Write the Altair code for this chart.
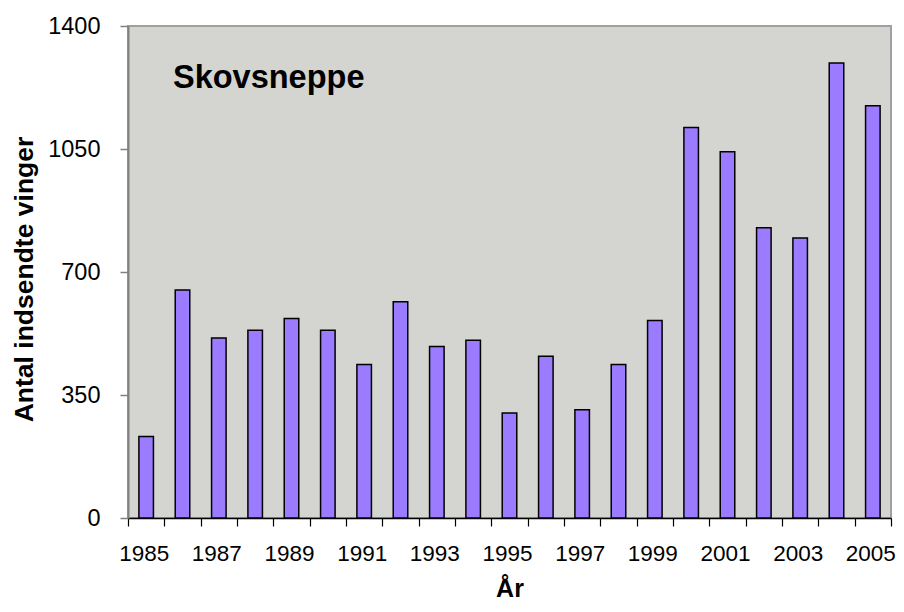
import altair as alt
import pandas as pd

years = list(range(1985, 2006))
values = [232, 649, 512, 534, 568, 534, 437, 615, 488, 506,
          299, 460, 308, 437, 562, 1111, 1042, 826, 797, 1295, 1173]

y_ticks = [0, 350, 700, 1050, 1400]
x_tick_bounds = [y - 0.5 for y in years] + [years[-1] + 0.5]

df = pd.DataFrame({"year": years, "value": values})

FONT = "Arial, Liberation Sans, sans-serif"
W, H = 763, 492

x_scale = alt.Scale(domain=[years[0] - 0.5, years[-1] + 0.5], nice=False, zero=False)
y_scale = alt.Scale(domain=[0, 1400], nice=False)

half_band = W / len(years) / 2

bars = alt.Chart(df).transform_calculate(
    x0="datum.year - 0.2", x1="datum.year + 0.2"
).mark_rect(color="#9B7BFF", stroke="#000000", strokeWidth=1.5).encode(
    x=alt.X("x0:Q", scale=x_scale,
            axis=alt.Axis(values=x_tick_bounds,
                          labelExpr="(datum.value + 0.5 - 1985) % 2 == 0 ? toString(datum.value + 0.5) : ''",
                          labelOffset=half_band - 2.5, labelOverlap=False, labelFlush=False,
                          grid=False, tickSize=8, tickColor="#000000", tickWidth=1.2,
                          domainColor="#000000", domainWidth=1.5,
                          labelFont=FONT, labelFontSize=22.5, labelColor="#000000",
                          labelPadding=16,
                          title="År", titleFont=FONT, titleFontSize=25, titleFontWeight="bold",
                          titleColor="#000000", titleX=W / 2, titleY=78,
                          titleBaseline="alphabetic", titleAlign="center")),
    x2="x1:Q",
    y=alt.Y("value:Q", scale=y_scale,
            axis=alt.Axis(values=y_ticks, format="d", grid=False, tickSize=8,
                          tickColor="#808080", tickWidth=1.5,
                          domainColor="#808080", domainWidth=2,
                          labelFont=FONT, labelFontSize=23.5, labelColor="#000000",
                          labelPadding=20,
                          title="Antal indsendte vinger", titleFont=FONT, titleFontSize=26.5,
                          titleFontWeight="bold", titleColor="#000000",
                          titleX=-104, titleY=253, titleAngle=270,
                          titleBaseline="middle", titleAlign="center")),
    y2=alt.datum(0),
)

label = alt.Chart(pd.DataFrame({"t": ["Skovsneppe"]})).mark_text(
    font=FONT, fontSize=32.5, fontWeight="bold", align="left", baseline="middle", color="#000000"
).encode(x=alt.value(45), y=alt.value(52), text="t:N")

chart = alt.layer(bars, label).properties(
    width=W, height=H,
    autosize=alt.AutoSizeParams(type="none"),
    padding={"left": 120, "top": 18, "right": 5, "bottom": 82},
).configure_view(
    fill="#D4D5D0", stroke="#A0A0A0", strokeWidth=2
)

chart.save("out.html", embed_options={"renderer": "svg", "actions": False})
